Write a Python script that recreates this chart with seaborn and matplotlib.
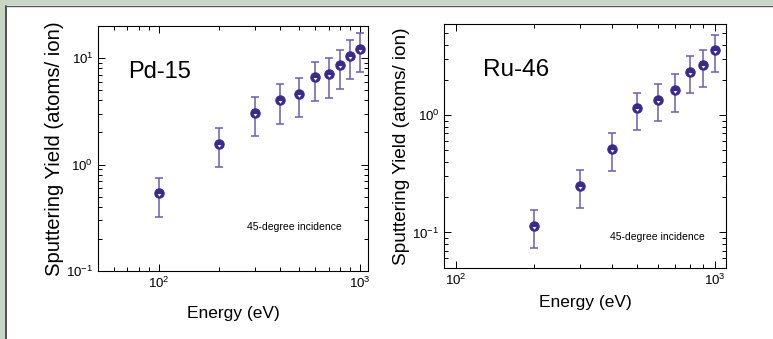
import numpy as np
import pandas as pd
import matplotlib
matplotlib.use("Agg")
import matplotlib.pyplot as plt
import seaborn as sns
from matplotlib.patches import Rectangle
from matplotlib.lines import Line2D
from matplotlib.path import Path

# Données
energy_pd = [100, 200, 300, 400, 500, 600, 700, 800, 900, 1000]
yield_pd = [0.54, 1.56, 3.05, 4.07, 4.63, 6.58, 7.13, 8.53, 10.5, 12.2]
err_lo_pd = [0.22, 0.62, 1.21, 1.65, 1.86, 2.66, 2.88, 3.45, 4.2, 4.87]
err_hi_pd = [0.21, 0.64, 1.22, 1.63, 1.85, 2.58, 2.87, 3.37, 4.2, 4.9]

energy_ru = [200, 300, 400, 500, 600, 700, 800, 900, 1000]
yield_ru = [0.114, 0.251, 0.517, 1.15, 1.36, 1.64, 2.35, 2.68, 3.62]
err_lo_ru = [0.040, 0.089, 0.181, 0.40, 0.47, 0.57, 0.81, 0.94, 1.30]
err_hi_ru = [0.041, 0.088, 0.183, 0.41, 0.47, 0.59, 0.84, 0.91, 1.19]

sns.set_theme(style="ticks")
plt.rcParams['font.family'] = ['Liberation Sans', 'DejaVu Sans']
plt.rcParams['mathtext.fontset'] = 'custom'
plt.rcParams['mathtext.rm'] = 'Liberation Sans'
plt.rcParams['text.color'] = 'black'
plt.rcParams['axes.labelcolor'] = 'black'
plt.rcParams['xtick.color'] = 'black'
plt.rcParams['ytick.color'] = 'black'

dot = '#3b2a8c'
bar_col = '#6a5fb0'

# petit triangle blanc dans le bas du rond (le point isolé garde l'échelle)
notch = Path([(-0.2, -0.06), (0.2, -0.06), (0.0, -0.34), (-0.2, -0.06), (0.5, 0.5)],
             [Path.MOVETO, Path.LINETO, Path.LINETO, Path.CLOSEPOLY, Path.MOVETO])

fig = plt.figure(figsize=(7.73, 3.39), dpi=100)
fig.patch.set_facecolor('white')

# cadre gris-vert en haut et à gauche
fig.patches.append(Rectangle((0, 0), 6 / 773, 1, transform=fig.transFigure,
                             facecolor='#c9d5c3', edgecolor='none', zorder=0))
fig.patches.append(Rectangle((0, 1 - 5 / 339), 1, 5 / 339, transform=fig.transFigure,
                             facecolor='#c9d5c3', edgecolor='none', zorder=0))
fig.lines.append(Line2D([6.5 / 773, 6.5 / 773], [0, 1 - 5.5 / 339], transform=fig.transFigure,
                        color='#444444', lw=1.3))
fig.lines.append(Line2D([6.5 / 773, 1], [1 - 5.5 / 339, 1 - 5.5 / 339], transform=fig.transFigure,
                        color='#555555', lw=1.0))

ax1 = fig.add_axes([0.1268, 0.2006, 0.3493, 0.7227])
ax2 = fig.add_axes([0.5748, 0.2103, 0.3640, 0.7189])

panels = [
    (ax1, energy_pd, yield_pd, err_lo_pd, err_hi_pd, "Pd-15", (50, 1100), (0.1, 20),
     (0.111, 0.814), (0.904, 0.181), 11, 14.6, 17),
    (ax2, energy_ru, yield_ru, err_lo_ru, err_hi_ru, "Ru-46", (90, 1100), (0.05, 6),
     (0.139, 0.811), (0.926, 0.126), 5, 13.7, 17.5),
]

for ax, x, y, lo, hi, name, xlim, ylim, name_pos, note_pos, xpad, ysize, nsize in panels:
    df = pd.DataFrame({'Energy': x, 'Yield': y})
    ax.set_xscale('log')
    ax.set_yscale('log')
    ax.errorbar(x, y, yerr=[lo, hi], fmt='none', ecolor=bar_col, elinewidth=1.1,
                capsize=3, capthick=1.1, zorder=2)
    sns.scatterplot(data=df, x='Energy', y='Yield', ax=ax, color=dot, s=45,
                    edgecolor=dot, linewidth=0.8, zorder=3)
    sns.scatterplot(data=df, x='Energy', y='Yield', ax=ax, color='white', marker=notch,
                    s=45, linewidth=0, zorder=4)
    ax.set_xlim(*xlim)
    ax.set_ylim(*ylim)
    ax.set_xlabel('Energy (eV)', fontsize=12.5, labelpad=xpad)
    ax.set_ylabel('Sputtering Yield (atoms/ ion)', fontsize=ysize, labelpad=1.5)
    ax.tick_params(which='both', direction='in', top=True, right=True, labelsize=9.5,
                   color='black', width=0.7)
    ax.tick_params(which='major', length=5)
    ax.tick_params(which='minor', length=3)
    for sp in ax.spines.values():
        sp.set_linewidth(0.8)
        sp.set_color('black')
    ax.text(*name_pos, name, transform=ax.transAxes, fontsize=nsize, va='center', ha='left')
    ax.text(*note_pos, '45-degree incidence', transform=ax.transAxes, fontsize=7.5,
            va='center', ha='right')

fig.savefig('out.png', dpi=100)
